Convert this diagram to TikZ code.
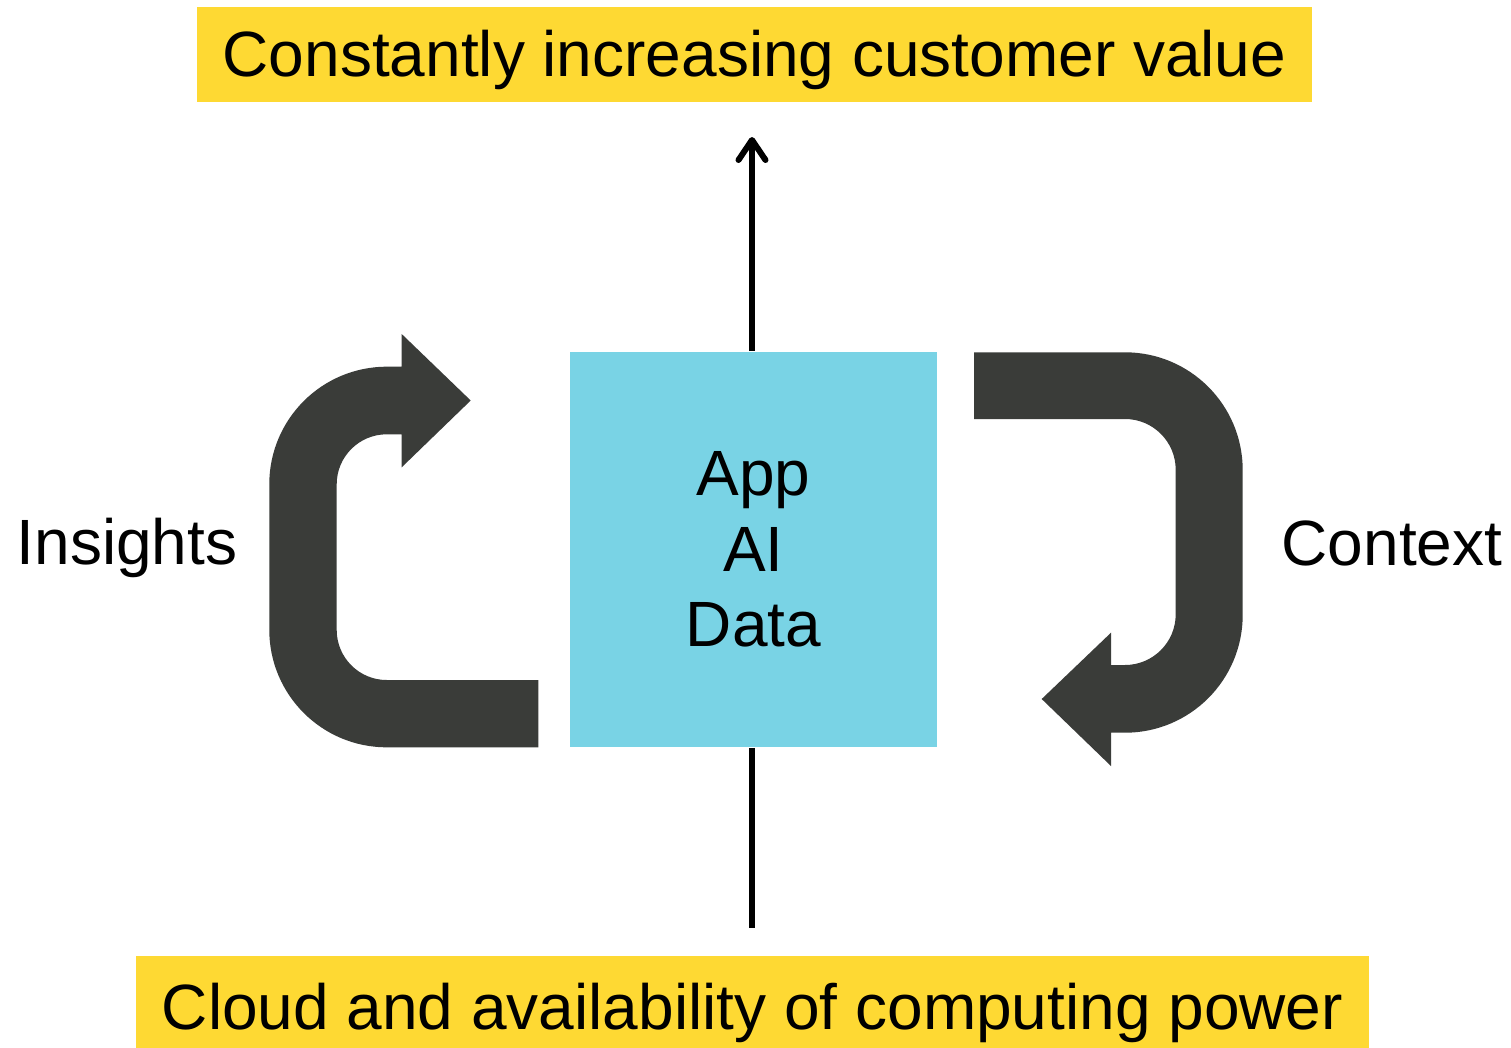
\documentclass[tikz,border=0pt]{standalone}
\usepackage{fontspec}
\setmainfont{Liberation Sans}
\usetikzlibrary{arrows.meta}
\definecolor{ylw}{RGB}{254,217,51}
\definecolor{sky}{RGB}{121,211,229}
\definecolor{charcoal}{RGB}{58,60,57}
\tikzset{
  txt/.style={font=\fontsize{18.2}{21.5}\selectfont, text=black, inner sep=0pt},
  ybox/.style={txt, fill=ylw, draw=none},
  corebox/.style={txt, fill=sky, draw=none, align=center, minimum width=3.67cm, minimum height=3.95cm},
  conn/.style={draw=black, line width=1.7pt},
  loop/.style={fill=charcoal, draw=none}
}
\begin{document}
\begin{tikzpicture}[x=0.01cm, y=-0.01cm]
\useasboundingbox[fill=white] (0,0) rectangle (1511,1048);

% yellow boxes
\node[ybox, minimum width=11.15cm, text height=0.695cm, text depth=0.255cm] (value) at (754.5,54.5) {Constantly increasing customer value};
\node[ybox, minimum width=12.33cm, text height=0.725cm, text depth=0.185cm] (cloud) at (752.5,1002) {Cloud and availability of computing power};

% central box
\node[corebox] (core) at (753.5,549.5) {\raisebox{-0.03cm}{App}\\\raisebox{-0.03cm}{AI}\\\raisebox{-0.03cm}{Data}};

% connectors
\coordinate (topend) at (752,137);
\coordinate (botend) at (752,928);
\draw[conn, -{Straight Barb[length=0.2cm, width=0.27cm, line cap=round, line join=round]}] (topend |- core.north) -- (topend);
\draw[conn] (botend |- core.south) -- (botend);

% left loop arrow (Insights)
\fill[loop] (538.3,680) -- (386.7,680)
  .. controls (359.1,680) and (336.7,657.6) .. (336.7,630)
  -- (336.7,484.3)
  .. controls (336.7,456.7) and (359.1,434.3) .. (386.7,434.3)
  -- (401.7,434.3) -- (401.7,467.3) -- (470.7,400.5) -- (401.7,334) -- (401.7,366.7) -- (386.7,366.7)
  .. controls (321.9,366.7) and (269.3,419.3) .. (269.3,484.1)
  -- (269.3,629.9)
  .. controls (269.3,694.7) and (321.9,747.3) .. (386.7,747.3)
  -- (538.3,747.3) -- cycle;

% right loop arrow (Context)
\fill[loop] (974,352.3) -- (1125,352.3)
  .. controls (1190,352.3) and (1242.7,405) .. (1242.7,470)
  -- (1242.7,615)
  .. controls (1242.7,680) and (1190,732.7) .. (1125,732.7)
  -- (1111,732.7) -- (1111,766) -- (1041.7,699) -- (1111,632.7) -- (1111,665) -- (1125,665)
  .. controls (1153,665) and (1175.7,642.3) .. (1175.7,614.3)
  -- (1175.7,469.7)
  .. controls (1175.7,441.7) and (1153,419) .. (1125,419)
  -- (974,419) -- cycle;

% side labels
\node[txt, anchor=base west] (insights) at (16,564) {Insights};
\node[txt, anchor=base west] (context) at (1281,565) {Context};
\end{tikzpicture}
\end{document}
